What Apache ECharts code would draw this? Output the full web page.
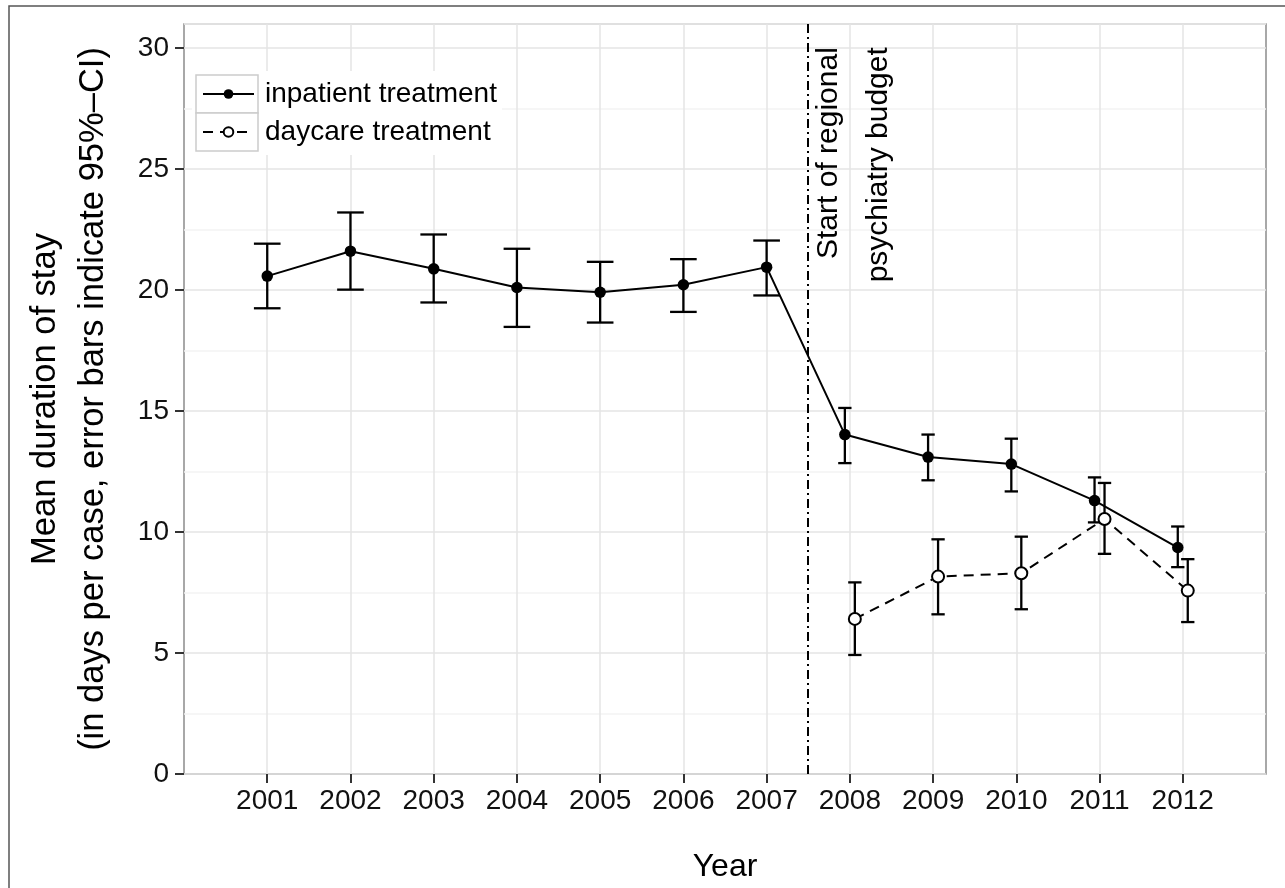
<!DOCTYPE html>
<html>
<head>
<meta charset="utf-8">
<script src="https://cdn.jsdelivr.net/npm/echarts@6/dist/echarts.min.js"></script>
<style>
html,body{margin:0;padding:0;background:#fff;}
#chart{width:1285px;height:888px;}
</style>
</head>
<body>
<div id="chart"></div>
<script>
// ---- data ----
const years = [2001, 2002, 2003, 2004, 2005, 2006, 2007, 2008, 2009, 2010, 2011, 2012];
const inpatientMean = [20.58, 21.61, 20.88, 20.11, 19.91, 20.22, 20.95, 14.03, 13.10, 12.81, 11.30, 9.36];
const inpatientLow  = [19.25, 20.02, 19.49, 18.48, 18.66, 19.10, 19.78, 12.85, 12.14, 11.68, 10.40, 8.55];
const inpatientHigh = [21.92, 23.21, 22.30, 21.71, 21.17, 21.28, 22.05, 15.13, 14.03, 13.86, 12.26, 10.23];
const daycareYears = [2008, 2009, 2010, 2011, 2012];
const daycareMean = [6.41, 8.16, 8.30, 10.54, 7.58];
const daycareLow  = [4.92, 6.60, 6.81, 9.10, 6.28];
const daycareHigh = [7.92, 9.70, 9.81, 12.03, 8.88];
const yTicks = [0, 5, 10, 15, 20, 25, 30];
const budgetStart = 2007.5;
const seriesNames = ['inpatient treatment', 'daycare treatment'];
const yTitle = 'Mean duration of stay\n(in days per case, error bars indicate 95%\u2013CI)';
const xTitle = 'Year';
const annotation = 'Start of regional\npsychiatry budget';

// dodge (like ggplot position_dodge) when both series share a year
const DODGE = 0.06, CAP_FULL = 0.16, CAP_DODGED = 0.08;
const inpData = years.map((y, i) => {
  const dodged = daycareYears.indexOf(y) >= 0;
  return [dodged ? y - DODGE : y, inpatientMean[i]];
});
const inpErr = years.map((y, i) => {
  const dodged = daycareYears.indexOf(y) >= 0;
  return [dodged ? y - DODGE : y, inpatientLow[i], inpatientHigh[i], dodged ? CAP_DODGED : CAP_FULL];
});
const dayData = daycareYears.map((y, i) => [y + DODGE, daycareMean[i]]);
const dayErr = daycareYears.map((y, i) => [y + DODGE, daycareLow[i], daycareHigh[i], CAP_DODGED]);

function renderErr(params, api) {
  const x = api.value(0), lo = api.value(1), hi = api.value(2), hw = api.value(3);
  const pLo = api.coord([x, lo]);
  const pHi = api.coord([x, hi]);
  const l = api.coord([x - hw, hi])[0];
  const r = api.coord([x + hw, hi])[0];
  const st = { stroke: '#000', lineWidth: 2.3 };
  return {
    type: 'group',
    children: [
      { type: 'line', shape: { x1: pLo[0], y1: pLo[1], x2: pHi[0], y2: pHi[1] }, style: st },
      { type: 'line', shape: { x1: l, y1: pHi[1], x2: r, y2: pHi[1] }, style: st },
      { type: 'line', shape: { x1: l, y1: pLo[1], x2: r, y2: pLo[1] }, style: st }
    ]
  };
}

const FONT = '"Liberation Sans", Arial, Helvetica, sans-serif';
const chart = echarts.init(document.getElementById('chart'), null, { renderer: 'canvas' });

const option = {
  backgroundColor: '#fff',
  animation: false,
  textStyle: { fontFamily: FONT },
  grid: {
    left: 184, right: 19, top: 24, bottom: 114,
    show: true, borderColor: '#8c8c8c', borderWidth: 1.5, backgroundColor: 'transparent'
  },
  legend: {
    orient: 'vertical',
    left: 202, top: 75,
    padding: 0, itemGap: 0,
    itemWidth: 51, itemHeight: 12,
    data: seriesNames,
    textStyle: { fontSize: 28, color: '#000', lineHeight: 38, padding: [0, 0, 0, 6], fontFamily: FONT },
    selectedMode: false,
    z: 6
  },
  xAxis: {
    type: 'value', min: 2000, max: 2013, interval: 1,
    axisLine: { show: false },
    axisTick: { show: true, customValues: years, length: 9, lineStyle: { color: '#333', width: 2 } },
    axisLabel: {
      customValues: years, fontSize: 28, color: '#111', margin: 13, fontFamily: FONT,
      formatter: v => (v >= 2001 && v <= 2012) ? String(v) : ''
    },
    splitLine: { show: true, lineStyle: { color: '#e5e5e5', width: 1.5 } },
    name: xTitle, nameLocation: 'middle', nameGap: 77,
    nameTextStyle: { fontSize: 32, color: '#000', fontFamily: FONT }
  },
  yAxis: [
    {
      type: 'value', min: 0, max: 31, interval: 2.5,
      axisLine: { show: false }, axisTick: { show: false }, axisLabel: { show: false },
      splitLine: { show: true, lineStyle: { color: ['#e5e5e5', '#f3f3f3'], width: 1.5 } }
    },
    {
      type: 'value', min: 0, max: 31, interval: 5, position: 'left',
      axisLine: { show: false },
      axisTick: { show: true, customValues: yTicks, length: 9, lineStyle: { color: '#333', width: 2 } },
      axisLabel: {
        customValues: yTicks, fontSize: 28, color: '#111', margin: 15, fontFamily: FONT,
        formatter: v => (v % 5 === 0) ? String(v) : ''
      },
      splitLine: { show: false },
      name: yTitle, nameLocation: 'middle', nameGap: 67,
      nameTextStyle: { fontSize: 34.5, color: '#000', lineHeight: 48, fontFamily: FONT, align: 'center' }
    }
  ],
  series: [
    {
      name: 'inpatient CI', type: 'custom', renderItem: renderErr, data: inpErr,
      encode: { x: 0, y: [1, 2] }, z: 2, silent: true
    },
    {
      name: 'daycare CI', type: 'custom', renderItem: renderErr, data: dayErr,
      encode: { x: 0, y: [1, 2] }, z: 2, silent: true
    },
    {
      name: seriesNames[1], type: 'line', data: dayData, z: 3,
      symbol: 'circle', symbolSize: 12, showSymbol: true,
      lineStyle: { color: '#000', width: 2, type: [10, 7] },
      itemStyle: { color: '#fff', borderColor: '#000', borderWidth: 2 }
    },
    {
      name: seriesNames[0], type: 'line', data: inpData, z: 4,
      symbol: 'circle', symbolSize: 11.5, showSymbol: true,
      lineStyle: { color: '#000', width: 2 },
      itemStyle: { color: '#000' },
      markLine: {
        silent: true, symbol: ['none', 'none'], label: { show: false },
        lineStyle: { color: '#000', width: 2, type: [9, 4, 2, 4] },
        data: [{ xAxis: budgetStart }]
      }
    }
  ]
};
chart.setOption(option);

// annotation + legend key boxes + outer frame
const anchor = chart.convertToPixel({ gridIndex: 0 }, [budgetStart, 30]);
chart.setOption({
  graphic: [
    { type: 'rect', z: 0, silent: true, shape: { x: 9, y: 6, width: 1300, height: 900 },
      style: { fill: 'none', stroke: '#555', lineWidth: 1.5 } },
    { type: 'rect', z: 1, silent: true, shape: { x: 192, y: 71, width: 310, height: 84 },
      style: { fill: '#fff', stroke: 'none' } },
    { type: 'rect', z: 2, silent: true, shape: { x: 196, y: 75, width: 62, height: 38 },
      style: { fill: '#fff', stroke: '#cccccc', lineWidth: 1.5 } },
    { type: 'rect', z: 2, silent: true, shape: { x: 196, y: 113, width: 62, height: 38 },
      style: { fill: '#fff', stroke: '#cccccc', lineWidth: 1.5 } },
    { type: 'text', z: 5, silent: true, x: anchor[0] - 4, y: anchor[1] - 1, rotation: Math.PI / 2,
      style: { text: annotation, font: '30px ' + FONT, fill: '#000', align: 'right', verticalAlign: 'top', lineHeight: 50 } }
  ]
});
</script>
</body>
</html>
